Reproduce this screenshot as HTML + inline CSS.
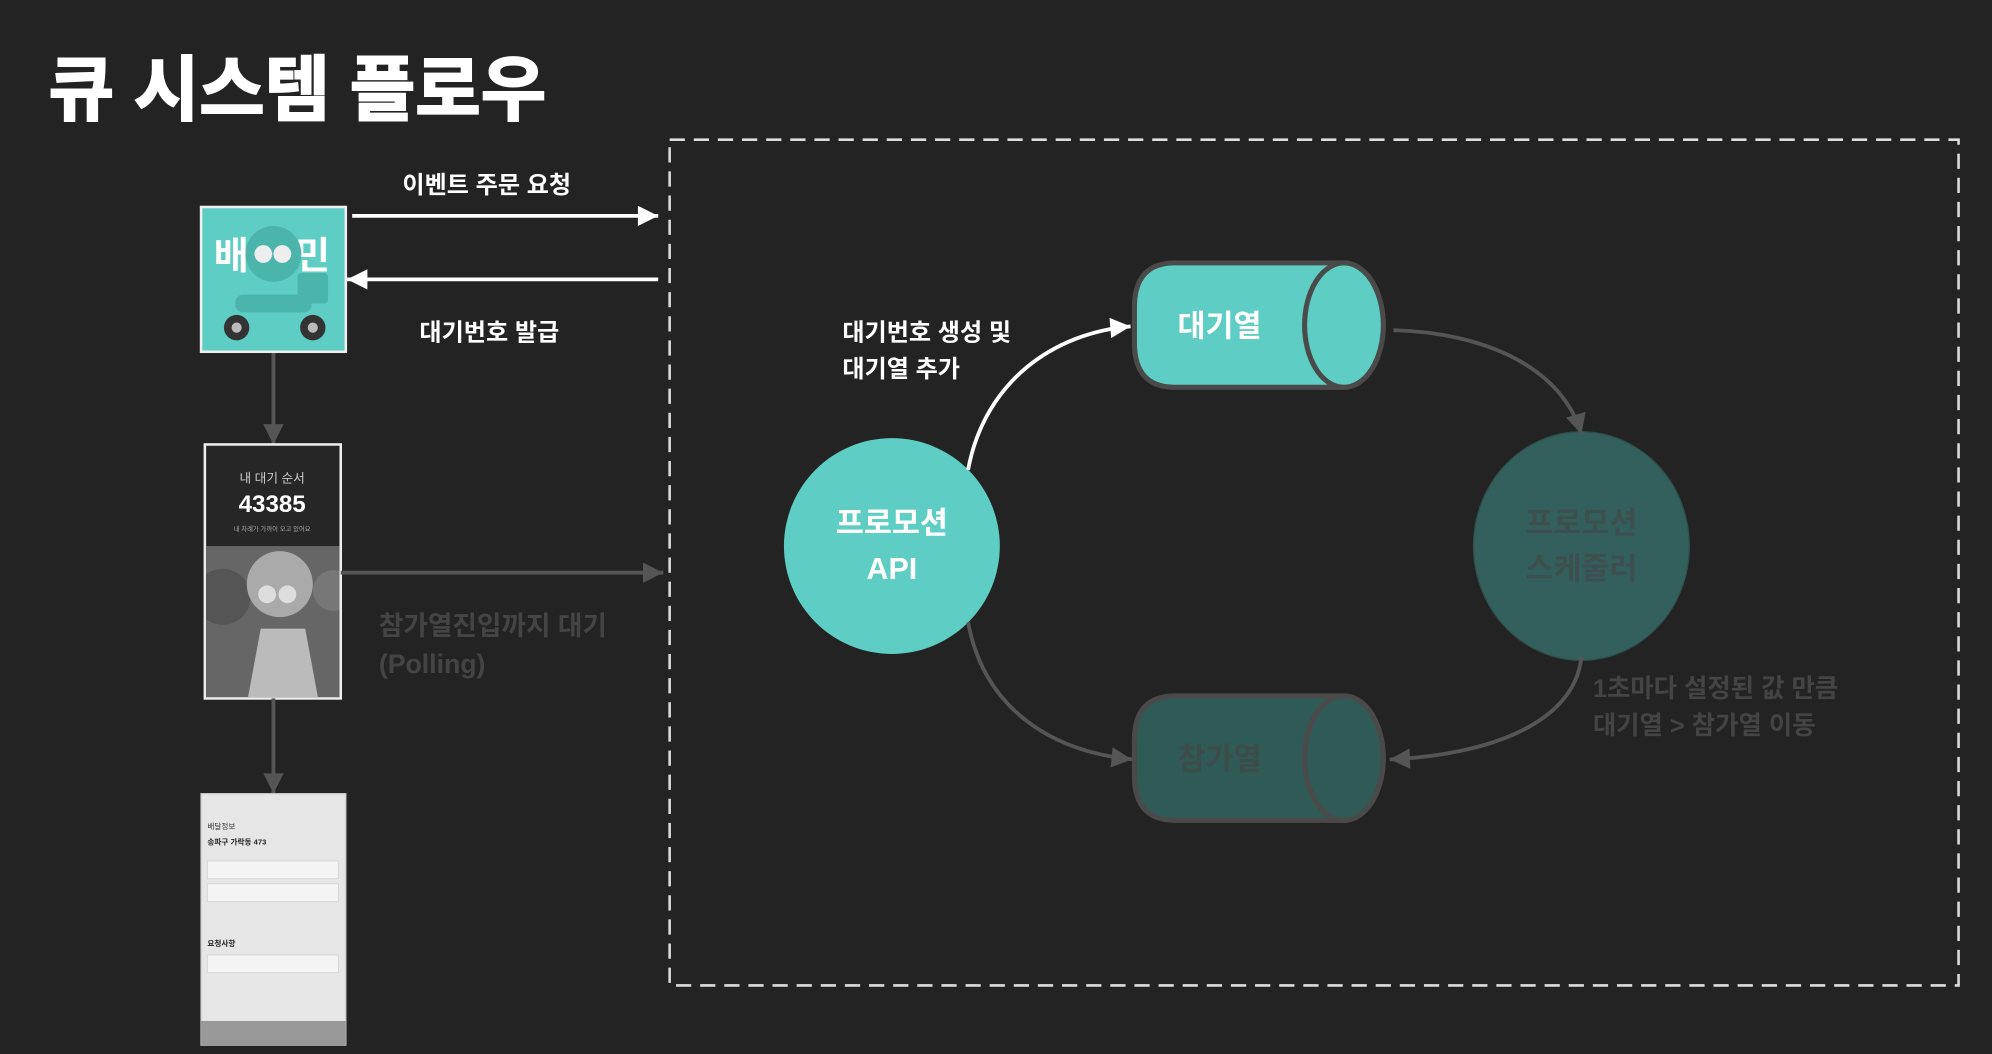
<!DOCTYPE html>
<html><head><meta charset="utf-8"><style>
html,body{margin:0;padding:0;background:#232323;}
svg{display:block;font-family:"Liberation Sans","Noto Sans CJK KR",sans-serif;}
</style></head><body>
<svg width="1992" height="1054" viewBox="0 0 1568 830" xmlns="http://www.w3.org/2000/svg">
<defs>
<marker id="w" viewBox="0 0 10 10" refX="10" refY="5" markerWidth="20" markerHeight="16" orient="auto" markerUnits="userSpaceOnUse"><path d="M0,0 L10,5 L0,10 Z" fill="#fff"/></marker>
<marker id="g" viewBox="0 0 10 10" refX="10" refY="5" markerWidth="20" markerHeight="16" orient="auto" markerUnits="userSpaceOnUse"><path d="M0,0 L10,5 L0,10 Z" fill="#555"/></marker>
<clipPath id="ph"><rect x="162" y="430" width="105" height="119"/></clipPath>
</defs>
<rect width="1568" height="830" fill="#232323"/>
<text x="38" y="90" font-size="56" font-weight="bold" fill="#fff" stroke="#fff" stroke-width="1.5">큐 시스템 플로우</text>
<rect x="527" y="110" width="1015" height="666" fill="none" stroke="#ddd" stroke-width="2" stroke-dasharray="12,7"/>

<rect x="158" y="163" width="114" height="114" fill="#5ecdc3" stroke="#eee" stroke-width="2"/>
<text x="168" y="212" font-size="30" font-weight="bold" fill="#fff">배</text>
<text x="232" y="212" font-size="30" font-weight="bold" fill="#fff">민</text>
<circle cx="215" cy="200" r="22" fill="#4bb5ac"/>
<circle cx="207" cy="200" r="7" fill="#eee"/><circle cx="222" cy="200" r="7" fill="#eee"/>
<rect x="185" y="232" width="60" height="14" rx="6" fill="#4bb5ac"/>
<circle cx="186" cy="258" r="10" fill="#333"/><circle cx="246" cy="258" r="10" fill="#333"/>
<circle cx="186" cy="258" r="4" fill="#bbb"/><circle cx="246" cy="258" r="4" fill="#bbb"/>
<rect x="234" y="215" width="24" height="24" rx="3" fill="#4bb5ac"/>

<line x1="277" y1="170" x2="518" y2="170" stroke="#fff" stroke-width="3" marker-end="url(#w)"/>
<text x="383" y="152" font-size="19" font-weight="bold" fill="#fff" text-anchor="middle">이벤트 주문 요청</text>
<line x1="518" y1="220" x2="273" y2="220" stroke="#fff" stroke-width="3" marker-end="url(#w)"/>
<text x="385" y="268" font-size="19" font-weight="bold" fill="#fff" text-anchor="middle">대기번호 발급</text>

<line x1="215" y1="278" x2="215" y2="350" stroke="#555" stroke-width="3" marker-end="url(#g)"/>
<rect x="161" y="350" width="107" height="200" fill="#262626" stroke="#eee" stroke-width="2"/>
<text x="214" y="380" font-size="10" fill="#ccc" text-anchor="middle">내 대기 순서</text>
<text x="214" y="403" font-size="19" font-weight="bold" fill="#fff" text-anchor="middle">43385</text>
<text x="214" y="418" font-size="5" fill="#aaa" text-anchor="middle">내 차례가 가까이 오고 있어요</text>
<g clip-path="url(#ph)">
<rect x="162" y="430" width="105" height="119" fill="#666"/>
<circle cx="175" cy="470" r="22" fill="#555"/><circle cx="262" cy="465" r="16" fill="#777"/>
<circle cx="220" cy="460" r="26" fill="#aaa"/>
<circle cx="210" cy="468" r="7" fill="#ddd"/><circle cx="226" cy="468" r="7" fill="#ddd"/>
<path d="M195 549 L205 495 L240 495 L250 549Z" fill="#bbb"/>
</g>

<line x1="268" y1="451" x2="522" y2="451" stroke="#555" stroke-width="3" marker-end="url(#g)"/>
<text x="298" y="500" font-size="21" font-weight="bold" fill="#444">참가열진입까지 대기</text>
<text x="298" y="530" font-size="21" font-weight="bold" fill="#444">(Polling)</text>

<line x1="215" y1="550" x2="215" y2="625" stroke="#555" stroke-width="3" marker-end="url(#g)"/>
<rect x="158" y="625" width="114" height="198" fill="#e6e6e6" stroke="#ccc" stroke-width="1"/>
<text x="163" y="653" font-size="6" fill="#333">배달정보</text>
<text x="163" y="665" font-size="6" font-weight="bold" fill="#222">송파구 가락동 473</text>
<rect x="163" y="678" width="103" height="14" fill="#f4f4f4" stroke="#ccc" stroke-width="0.5"/>
<rect x="163" y="696" width="103" height="14" fill="#f4f4f4" stroke="#ccc" stroke-width="0.5"/>
<text x="163" y="745" font-size="6" font-weight="bold" fill="#222">요청사항</text>
<rect x="163" y="752" width="103" height="14" fill="#f4f4f4" stroke="#ccc" stroke-width="0.5"/>
<rect x="158" y="804" width="114" height="19" fill="#999"/>

<circle cx="702" cy="430" r="85" fill="#5ecdc3"/>
<text x="702" y="420" font-size="24" font-weight="bold" fill="#fff" text-anchor="middle">프로모션</text>
<text x="702" y="456" font-size="24" font-weight="bold" fill="#fff" text-anchor="middle">API</text>

<path d="M925 207 L1058 207 A31 49 0 0 1 1058 305 L925 305 Q893 305 893 270 L893 242 Q893 207 925 207Z" fill="#5ecdc3" stroke="#4a4a4a" stroke-width="4"/>
<ellipse cx="1058" cy="256" rx="31" ry="49" fill="#5ecdc3" stroke="#4a4a4a" stroke-width="4"/>
<text x="960" y="265" font-size="24" font-weight="bold" fill="#fff" text-anchor="middle">대기열</text>

<path d="M925 548 L1058 548 A31 49 0 0 1 1058 646 L925 646 Q893 646 893 611 L893 583 Q893 548 925 548Z" fill="#2f5a56" stroke="#4a4a4a" stroke-width="4"/>
<ellipse cx="1058" cy="597" rx="31" ry="49" fill="#2f5a56" stroke="#4a4a4a" stroke-width="4"/>
<text x="960" y="606" font-size="24" font-weight="bold" fill="#3c4c4a" text-anchor="middle">참가열</text>

<ellipse cx="1245" cy="430" rx="85" ry="90" fill="#33605c" stroke="#2f4f4c" stroke-width="1"/>
<text x="1245" y="420" font-size="24" font-weight="bold" fill="#3d504e" text-anchor="middle">프로모션</text>
<text x="1245" y="456" font-size="24" font-weight="bold" fill="#3d504e" text-anchor="middle">스케줄러</text>

<path d="M762 370 C775 300 830 262 890 257" fill="none" stroke="#fff" stroke-width="3" marker-end="url(#w)"/>
<text x="663" y="268" font-size="19" font-weight="bold" fill="#fff">대기번호 생성 및</text>
<text x="663" y="297" font-size="19" font-weight="bold" fill="#fff">대기열 추가</text>
<path d="M1097 260 C1170 262 1230 290 1245 342" fill="none" stroke="#555" stroke-width="3" marker-end="url(#g)"/>
<path d="M1245 517 C1240 570 1170 595 1094 598" fill="none" stroke="#555" stroke-width="3" marker-end="url(#g)"/>
<path d="M762 490 C775 560 830 592 891 598" fill="none" stroke="#555" stroke-width="3" marker-end="url(#g)"/>
<text x="1254" y="549" font-size="20" font-weight="bold" fill="#444">1초마다 설정된 값 만큼</text>
<text x="1254" y="578" font-size="20" font-weight="bold" fill="#444">대기열 &gt; 참가열 이동</text>
</svg>
</body></html>
